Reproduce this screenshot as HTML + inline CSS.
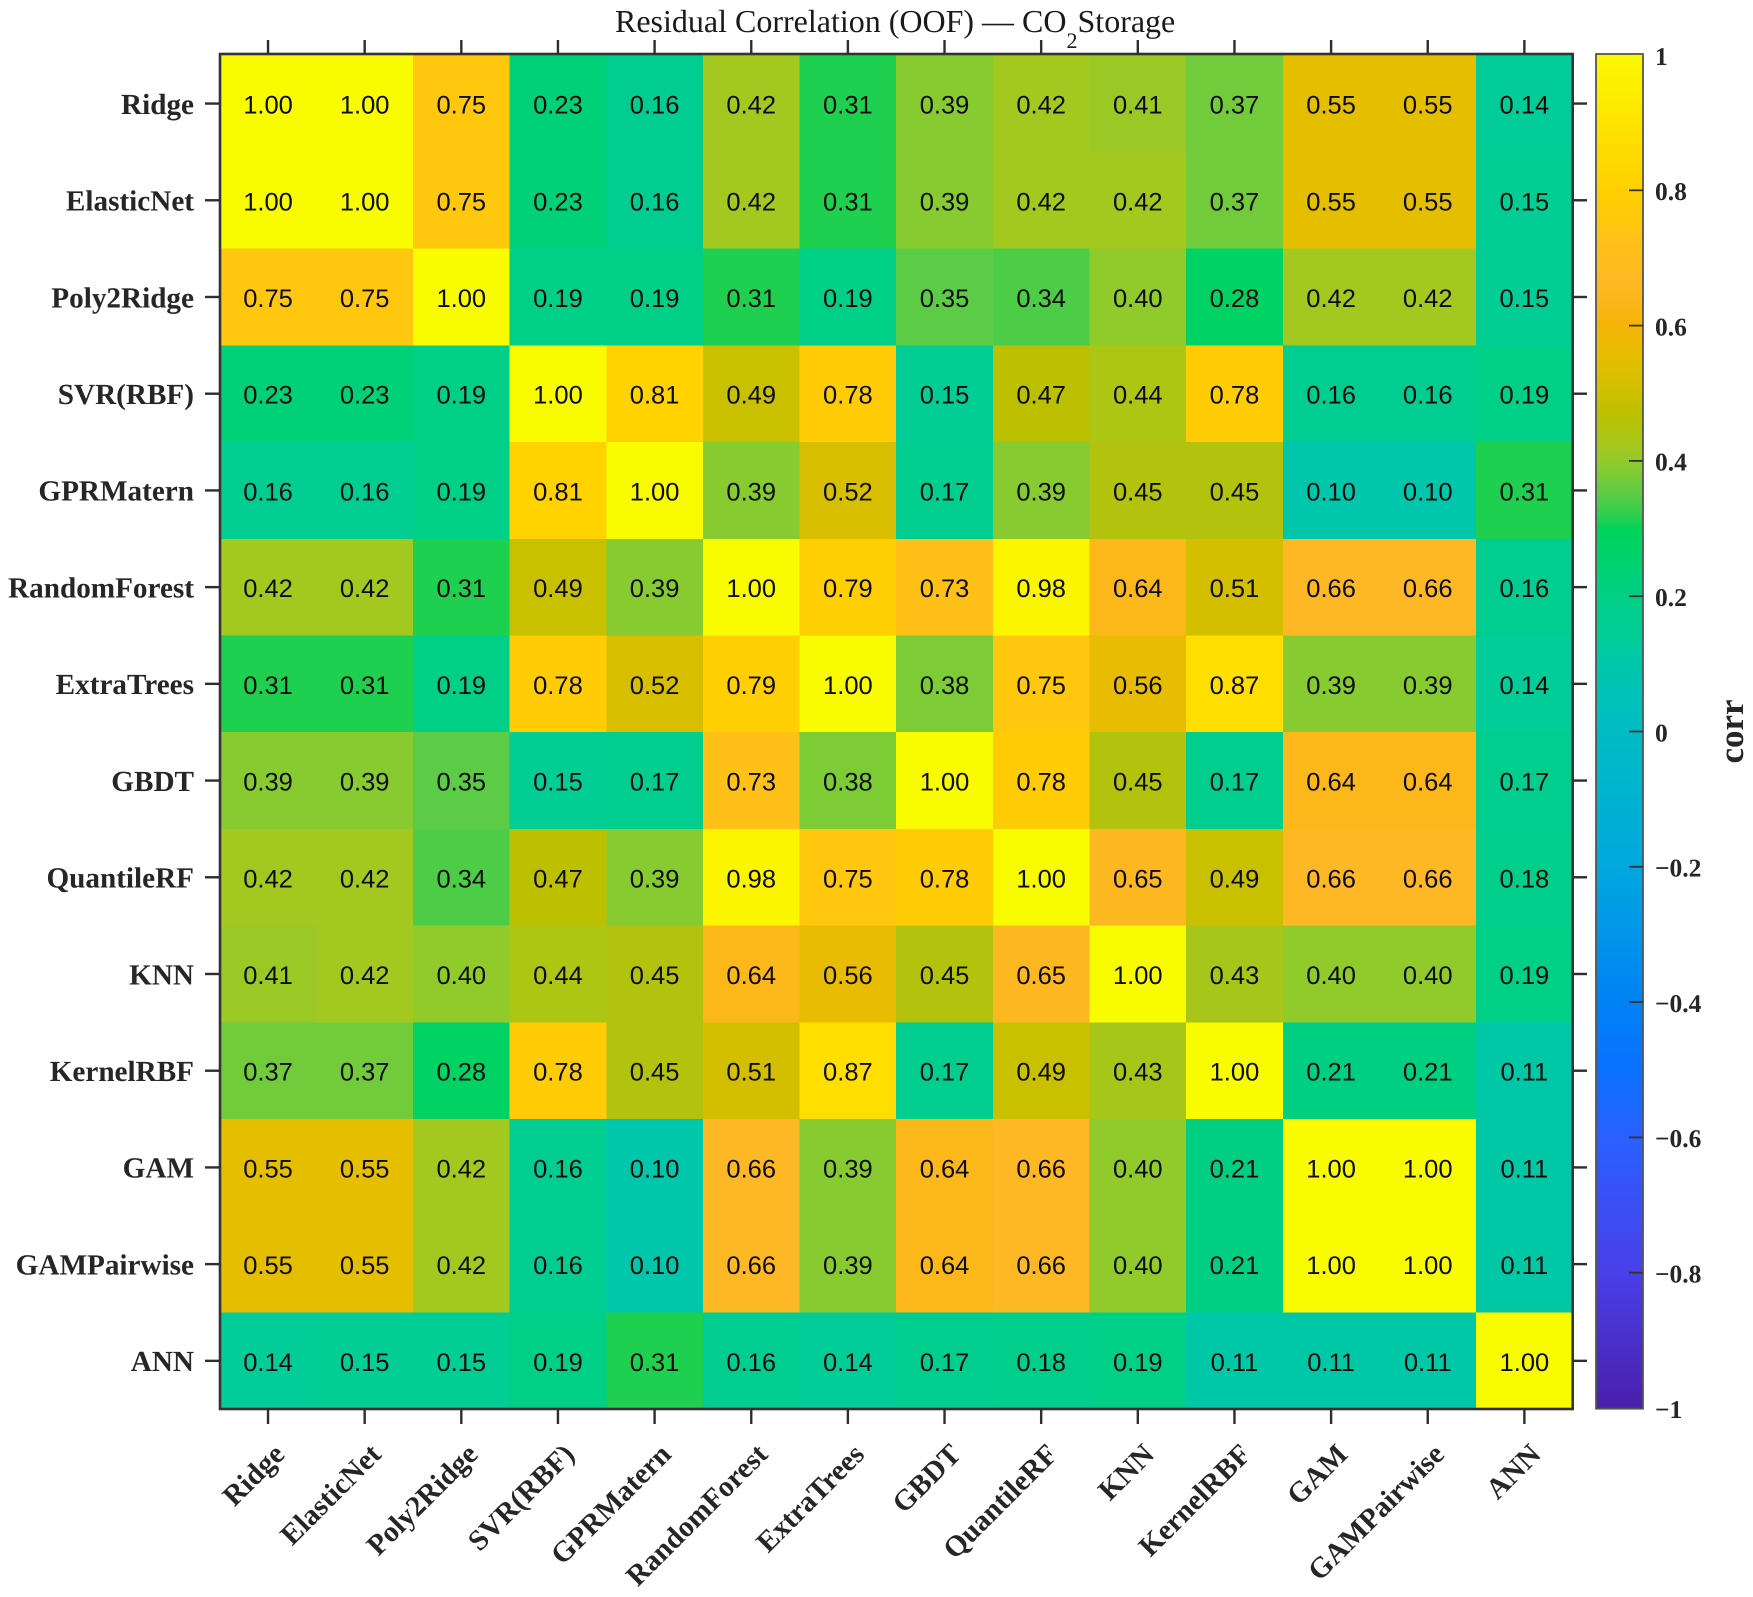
<!DOCTYPE html>
<html lang="en">
<head>
<meta charset="utf-8">
<title>Residual Correlation (OOF) — CO2 Storage</title>
<style>
  html, body { margin: 0; padding: 0; background: #fff; }
  #figure { display: block; text-rendering: geometricPrecision; }
  .serif { font-family: "Liberation Serif", "Times New Roman", serif; }
  .sans { font-family: "Liberation Sans", Arial, sans-serif; }
</style>
</head>
<body>
<svg id="figure" xmlns="http://www.w3.org/2000/svg" width="1753" height="1597" viewBox="0 0 1753 1597">
  <rect x="0" y="0" width="1753" height="1597" fill="#ffffff"/>
  <defs>
    <linearGradient id="cbar-gradient" x1="0" y1="0" x2="0" y2="1"></linearGradient>
  </defs>
  <g id="cells" shape-rendering="crispEdges"></g>
  <g id="values"></g>
  <g id="axes"></g>
  <text class="serif" x="615" y="32" font-size="32" fill="#1a1a1a">Residual Correlation (OOF) — CO<tspan font-size="22" dy="16">2</tspan><tspan dy="-16">Storage</tspan></text>
  <g id="colorbar"></g>
  <text class="serif" transform="translate(1743 731.5) rotate(-90)" text-anchor="middle" font-size="35" font-weight="bold" fill="#262626">corr</text>
</svg>
<script>
const categories = ["Ridge", "ElasticNet", "Poly2Ridge", "SVR(RBF)", "GPRMatern", "RandomForest", "ExtraTrees", "GBDT", "QuantileRF", "KNN", "KernelRBF", "GAM", "GAMPairwise", "ANN"];
const corrMatrix = [
  [1.00, 1.00, 0.75, 0.23, 0.16, 0.42, 0.31, 0.39, 0.42, 0.41, 0.37, 0.55, 0.55, 0.14],
  [1.00, 1.00, 0.75, 0.23, 0.16, 0.42, 0.31, 0.39, 0.42, 0.42, 0.37, 0.55, 0.55, 0.15],
  [0.75, 0.75, 1.00, 0.19, 0.19, 0.31, 0.19, 0.35, 0.34, 0.40, 0.28, 0.42, 0.42, 0.15],
  [0.23, 0.23, 0.19, 1.00, 0.81, 0.49, 0.78, 0.15, 0.47, 0.44, 0.78, 0.16, 0.16, 0.19],
  [0.16, 0.16, 0.19, 0.81, 1.00, 0.39, 0.52, 0.17, 0.39, 0.45, 0.45, 0.10, 0.10, 0.31],
  [0.42, 0.42, 0.31, 0.49, 0.39, 1.00, 0.79, 0.73, 0.98, 0.64, 0.51, 0.66, 0.66, 0.16],
  [0.31, 0.31, 0.19, 0.78, 0.52, 0.79, 1.00, 0.38, 0.75, 0.56, 0.87, 0.39, 0.39, 0.14],
  [0.39, 0.39, 0.35, 0.15, 0.17, 0.73, 0.38, 1.00, 0.78, 0.45, 0.17, 0.64, 0.64, 0.17],
  [0.42, 0.42, 0.34, 0.47, 0.39, 0.98, 0.75, 0.78, 1.00, 0.65, 0.49, 0.66, 0.66, 0.18],
  [0.41, 0.42, 0.40, 0.44, 0.45, 0.64, 0.56, 0.45, 0.65, 1.00, 0.43, 0.40, 0.40, 0.19],
  [0.37, 0.37, 0.28, 0.78, 0.45, 0.51, 0.87, 0.17, 0.49, 0.43, 1.00, 0.21, 0.21, 0.11],
  [0.55, 0.55, 0.42, 0.16, 0.10, 0.66, 0.39, 0.64, 0.66, 0.40, 0.21, 1.00, 1.00, 0.11],
  [0.55, 0.55, 0.42, 0.16, 0.10, 0.66, 0.39, 0.64, 0.66, 0.40, 0.21, 1.00, 1.00, 0.11],
  [0.14, 0.15, 0.15, 0.19, 0.31, 0.16, 0.14, 0.17, 0.18, 0.19, 0.11, 0.11, 0.11, 1.00]
];
const colorbarTickValues = [1, 0.8, 0.6, 0.4, 0.2, 0, -0.2, -0.4, -0.6, -0.8, -1];
const colorbarTickLabels = ["1", "0.8", "0.6", "0.4", "0.2", "0", "−0.2", "−0.4", "−0.6", "−0.8", "−1"];
const colormapValues = [-1, -0.8, -0.6, -0.5, -0.4, -0.2, 0, 0.1, 0.14, 0.2, 0.3, 0.31, 0.35, 0.39, 0.42, 0.47, 0.49, 0.52, 0.55, 0.6, 0.66, 0.73, 0.75, 0.8, 0.87, 0.98, 1];
const colormapColors = ["#4a1fab", "#4a3fe8", "#2a60ff", "#0a70ff", "#0082f5", "#00a8de", "#00bcc4", "#00c6ac", "#02cc97", "#00cf85", "#00d35a", "#1fd050", "#5ccb45", "#88cb30", "#a3c820", "#bdc000", "#c8c000", "#d8be00", "#e5be00", "#f5b408", "#ffb825", "#ffc118", "#ffc70e", "#ffd000", "#ffde00", "#fbf500", "#f9fb00"];

const SVG_NS = "http://www.w3.org/2000/svg";
const plot = { left: 219.7, right: 1572.7, top: 55.2, bottom: 1409.2 };
const bar = { left: 1596, right: 1643, top: 54, bottom: 1408.7 };

function xBand(i) { return plot.left + i * (plot.right - plot.left) / categories.length; }
function yBand(i) { return plot.top + i * (plot.bottom - plot.top) / categories.length; }
function xCenter(i) { return (xBand(i) + xBand(i + 1)) / 2; }
function yCenter(i) { return (yBand(i) + yBand(i + 1)) / 2; }
function barY(v) { return 731.5 - v * 676.5; }

function hexToRgb(h) { return [1, 3, 5].map(function (k) { return parseInt(h.slice(k, k + 2), 16); }); }
function colorFor(v) {
  if (v <= colormapValues[0]) return colormapColors[0];
  for (let k = 1; k < colormapValues.length; k++) {
    if (v <= colormapValues[k]) {
      const t = (v - colormapValues[k - 1]) / (colormapValues[k] - colormapValues[k - 1]);
      const a = hexToRgb(colormapColors[k - 1]);
      const b = hexToRgb(colormapColors[k]);
      return "rgb(" + a.map(function (c, n) { return Math.round(c + (b[n] - c) * t); }).join(",") + ")";
    }
  }
  return colormapColors[colormapColors.length - 1];
}
function make(tag, attrs, parent, text) {
  const el = document.createElementNS(SVG_NS, tag);
  for (const key in attrs) el.setAttribute(key, attrs[key]);
  if (text !== undefined) el.textContent = text;
  parent.appendChild(el);
  return el;
}

const cellsG = document.getElementById("cells");
const valuesG = document.getElementById("values");
const axesG = document.getElementById("axes");
const barG = document.getElementById("colorbar");

corrMatrix.forEach(function (row, r) {
  row.forEach(function (value, c) {
    const cell = make("rect", { x: xBand(c), y: yBand(r), width: xBand(c + 1) - xBand(c), height: yBand(r + 1) - yBand(r), fill: colorFor(value) }, cellsG);
    
    
    const label = make("text", { x: xCenter(c), y: yCenter(r) + 10, "text-anchor": "middle", "font-size": 25.5, fill: "#0c0c0c", class: "sans" }, valuesG, value.toFixed(2));
    
    
  });
});

const frame = make("rect", { x: 220, y: 54, width: 1352.7, height: 1355, fill: "none", stroke: "#333333", "stroke-width": 2.6 }, axesG);



const axisInk = "#2e2e2e";
categories.forEach(function (name, i) {
  const x = xCenter(i);
  const y = yCenter(i);
  const topTick = make("line", { x1: x, x2: x, y1: 40, y2: 54, stroke: axisInk, "stroke-width": 2.4 }, axesG);
  
  
  const bottomTick = make("line", { x1: x, x2: x, y1: 1409, y2: 1424, stroke: axisInk, "stroke-width": 2.4 }, axesG);
  
  
  const leftTick = make("line", { x1: 205, x2: 220, y1: y, y2: y, stroke: axisInk, "stroke-width": 2.4 }, axesG);
  
  
  const rightTick = make("line", { x1: 1572.7, x2: 1587, y1: y, y2: y, stroke: axisInk, "stroke-width": 2.4 }, axesG);
  
  
  const yLabel = make("text", { x: 194, y: y + 10.3, "text-anchor": "end", "font-size": 29.2, "font-weight": "bold", fill: "#262626", class: "serif" }, axesG, name);
  
  
  const xLabel = make("text", { transform: "translate(" + (x + 18) + " 1456) rotate(-45)", "text-anchor": "end", "font-size": 29.2, "font-weight": "bold", fill: "#262626", class: "serif" }, axesG, name);
  
  
});

const gradient = document.getElementById("cbar-gradient");
colormapValues.forEach(function (v, k) {
  make("stop", { offset: (1 - v) / 2, "stop-color": colormapColors[k] }, gradient);
});
Array.from(gradient.children).reverse().forEach(function (s) { gradient.appendChild(s); });

const barRect = make("rect", { x: bar.left, y: bar.top, width: bar.right - bar.left, height: bar.bottom - bar.top, fill: "url(#cbar-gradient)", stroke: "#555555", "stroke-width": 1.8 }, barG);



colorbarTickValues.forEach(function (v, k) {
  const y = barY(v);
  if (v !== 1 && v !== -1) {
    const tick = make("line", { x1: 1629, x2: 1643, y1: y, y2: y, stroke: "#333333", "stroke-width": 1.8 }, barG);
    
    
  }
  const label = make("text", { x: 1655, y: y + 9.8, "font-size": 25.5, "font-weight": "bold", fill: "#262626", class: "serif" }, barG, colorbarTickLabels[k]);
  
  
});
</script>
</body>
</html>
